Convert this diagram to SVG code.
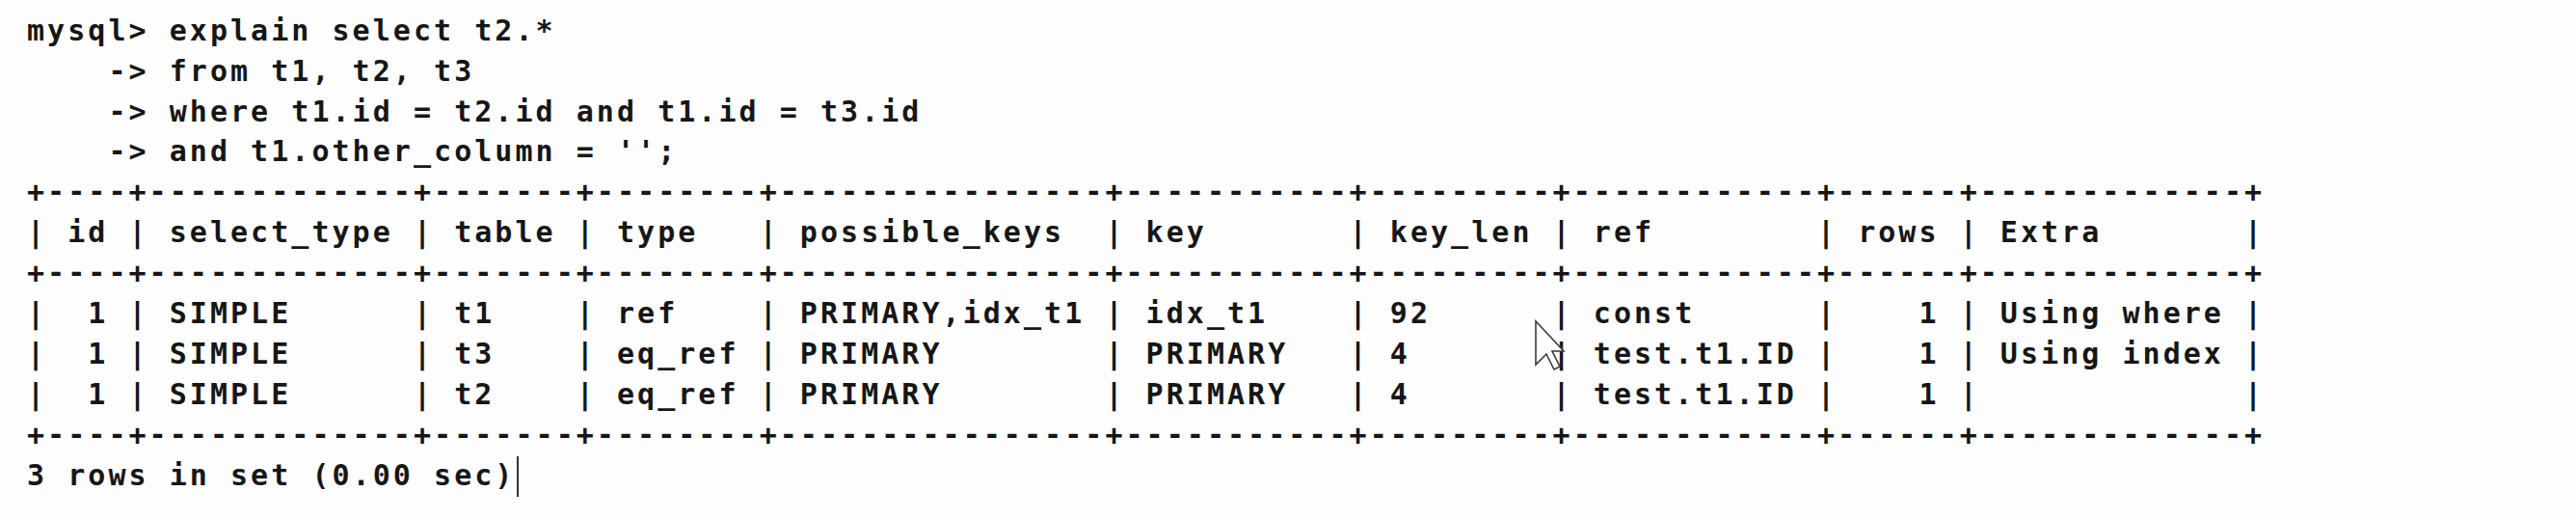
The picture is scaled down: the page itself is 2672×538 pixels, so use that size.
<svg xmlns="http://www.w3.org/2000/svg" width="2672" height="538" viewBox="0 0 2672 538">
<style>
  .t { font-family: "DejaVu Sans Mono", "Liberation Mono", monospace; font-size: 30px; font-weight: bold; letter-spacing: 3.04px; fill: #161616; white-space: pre; }
  .cursor { fill: #ffffff; stroke: #3a3a3a; stroke-width: 1.6; stroke-linejoin: miter; }
  .caret { stroke: #333333; stroke-width: 2; }
</style>
<rect x="0" y="0" width="2672" height="538" fill="#fdfdfd"/>
<g id="query" xml:space="preserve">
  <text class="t" x="28" y="41.7">mysql&gt; explain select t2.*</text>
  <text class="t" x="28" y="83.6">    -&gt; from t1, t2, t3</text>
  <text class="t" x="28" y="125.5">    -&gt; where t1.id = t2.id and t1.id = t3.id</text>
  <text class="t" x="28" y="167.4">    -&gt; and t1.other_column = '';</text>
</g>
<g id="result-table" xml:space="preserve">
  <text class="t" x="28" y="209.3">+----+-------------+-------+--------+----------------+-----------+---------+------------+------+-------------+</text>
  <text class="t" x="28" y="251.2">| id | select_type | table | type   | possible_keys  | key       | key_len | ref        | rows | Extra       |</text>
  <text class="t" x="28" y="293.1">+----+-------------+-------+--------+----------------+-----------+---------+------------+------+-------------+</text>
  <text class="t" x="28" y="335">|  1 | SIMPLE      | t1    | ref    | PRIMARY,idx_t1 | idx_t1    | 92      | const      |    1 | Using where |</text>
  <text class="t" x="28" y="376.9">|  1 | SIMPLE      | t3    | eq_ref | PRIMARY        | PRIMARY   | 4       | test.t1.ID |    1 | Using index |</text>
  <text class="t" x="28" y="418.8">|  1 | SIMPLE      | t2    | eq_ref | PRIMARY        | PRIMARY   | 4       | test.t1.ID |    1 |             |</text>
  <text class="t" x="28" y="460.7">+----+-------------+-------+--------+----------------+-----------+---------+------------+------+-------------+</text>
</g>
<g id="footer" xml:space="preserve">
  <text class="t" x="28" y="502.6">3 rows in set (0.00 sec)</text>
  <line class="caret" x1="537" y1="473" x2="537" y2="515"/>
</g>
<g id="mouse-pointer">
  <path class="cursor" d="M1593,333 L1593,378 L1604,367 L1612,383 L1618,380 L1610,364 L1622,364 Z"/>
</g>
</svg>
